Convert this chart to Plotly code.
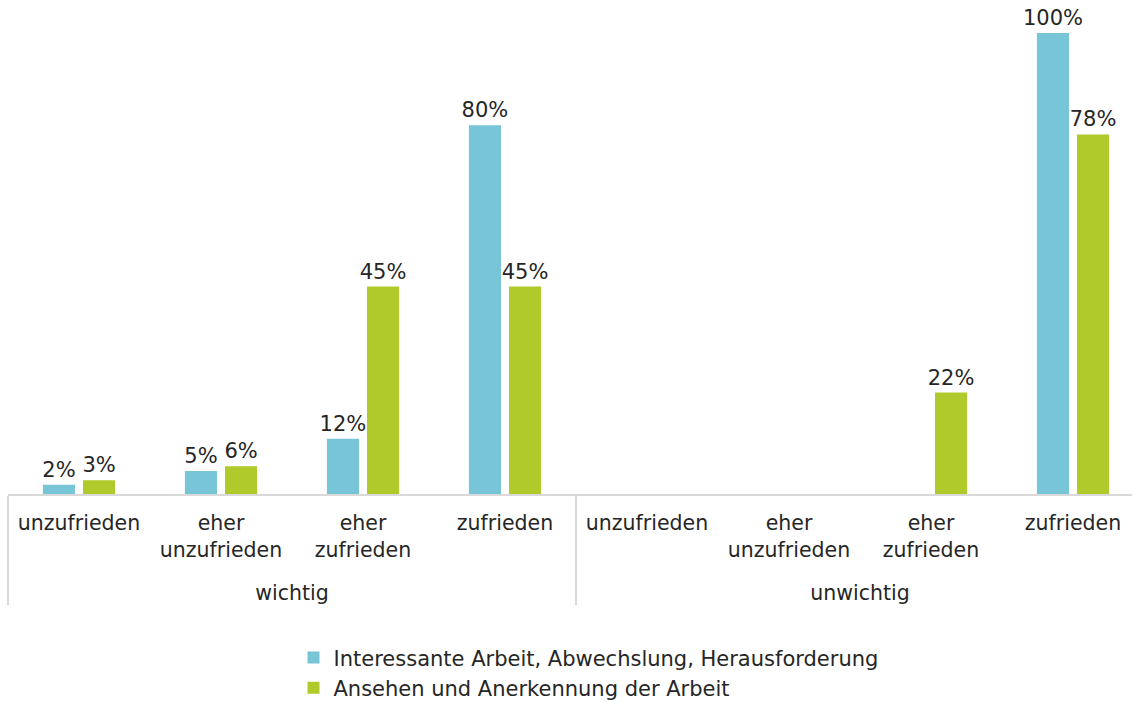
import plotly.graph_objects as go

# Grouped categories: importance (outer) x satisfaction (inner)
groups = ["wichtig"] * 4 + ["unwichtig"] * 4
satisfaction = [
    "unzufrieden<br> <br> ",
    "eher<br>unzufrieden<br> ",
    "eher<br>zufrieden<br> ",
    "zufrieden<br> <br> ",
] * 2

series_names = [
    "Interessante Arbeit, Abwechslung, Herausforderung",
    "Ansehen und Anerkennung der Arbeit",
]
interessante_arbeit = [2, 5, 12, 80, 0, 0, 0, 100]
ansehen_anerkennung = [3, 6, 45, 45, 0, 0, 22, 78]

colors = ["#78C5D8", "#AFCA2A"]
font_family = "DejaVu Sans, Verdana, sans-serif"
text_color = "#262626"

fig = go.Figure()
for name, vals, col in zip(series_names, [interessante_arbeit, ansehen_anerkennung], colors):
    fig.add_trace(go.Bar(
        x=[groups, satisfaction],
        y=vals,
        name=name,
        marker=dict(color=col, line=dict(width=0)),
        text=[f"{v}%" if v else "" for v in vals],
        textposition="outside",
        constraintext="none",
        textfont=dict(family=font_family, size=21, color=text_color),
        cliponaxis=False,
    ))

fig.update_layout(
    width=1132, height=702,
    margin=dict(l=8, r=0, t=0, b=208),
    paper_bgcolor="white", plot_bgcolor="white",
    barmode="group", bargap=0.435, bargroupgap=0.2,
    font=dict(family=font_family, size=21, color=text_color),
    showlegend=True,
    legend=dict(
        orientation="v", xref="paper", x=0.254, xanchor="left",
        yref="container", y=0.092, yanchor="top",
        font=dict(family=font_family, size=21, color=text_color),
        itemsizing="constant", tracegroupgap=0,
    ),
)
fig.update_xaxes(
    type="multicategory",
    range=[-0.5, -0.5 + 1124 / 142],
    automargin=False,
    showline=True, linecolor="#D9D9D9", linewidth=1.5,
    showdividers=True, dividercolor="#D9D9D9", dividerwidth=1.5,
    tickfont=dict(family=font_family, size=20.5, color=text_color),
    ticklabelstandoff=10,
    showgrid=False, ticks="",
)
fig.update_yaxes(
    range=[0, 494 / 4.61],
    visible=False, showgrid=False, zeroline=False,
)

fig.write_html("out.html")
